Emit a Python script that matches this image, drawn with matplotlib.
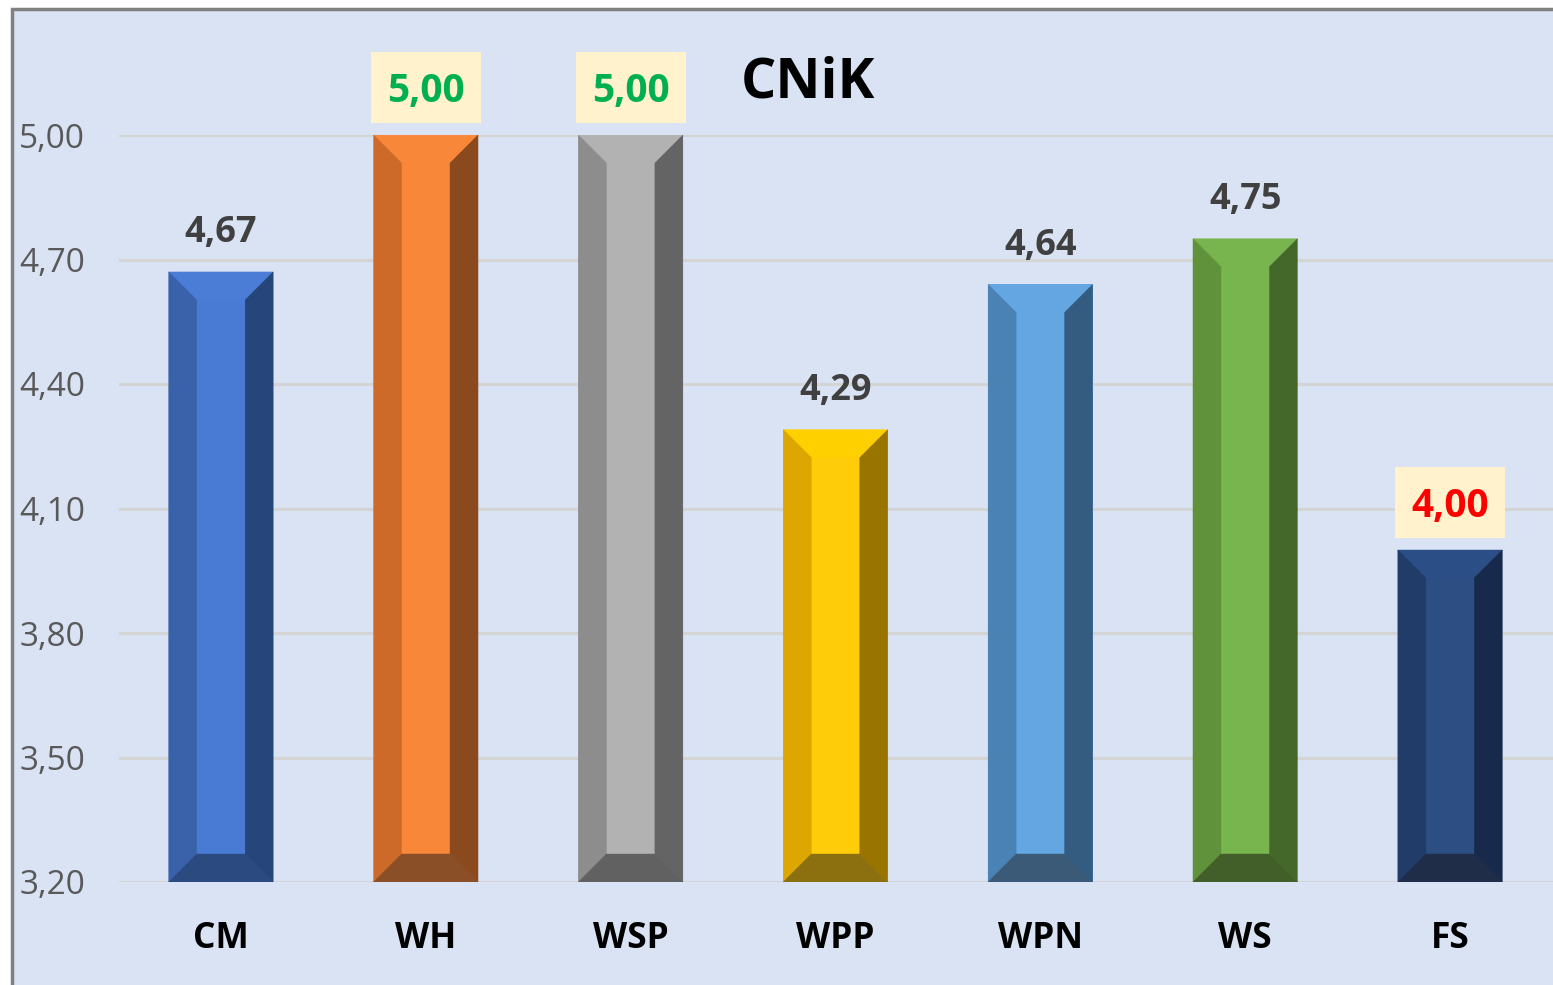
import matplotlib
matplotlib.use("Agg")
import matplotlib.pyplot as plt
from matplotlib.patches import Rectangle, Polygon
import numpy as np

# ------ DATA ------
categories = ["CM", "WH", "WSP", "WPP", "WPN", "WS", "FS"]
values = [4.67, 5.00, 5.00, 4.29, 4.64, 4.75, 4.00]
yticks = [3.20, 3.50, 3.80, 4.10, 4.40, 4.70, 5.00]
title = "CNiK"

# bevel colours per bar: centre, top, left, right, bottom
bar_colors = [
    ("#4A7BD4", "#4B7CD6", "#3A62AA", "#26457A", "#2B4A80"),
    ("#F9873A", "#F9873A", "#CD6A2A", "#8A4A1D", "#8A4F26"),
    ("#B2B2B2", "#B2B2B2", "#8D8D8D", "#646464", "#616161"),
    ("#FFCC09", "#FFD000", "#DDA600", "#997500", "#8C7010"),
    ("#64A6E1", "#64A6E1", "#4B82B4", "#335C80", "#3A5A78"),
    ("#79B54E", "#79B54E", "#5F923B", "#44682A", "#425F2A"),
    ("#2C4E82", "#2A4E85", "#213C69", "#182A4C", "#1F2D48"),
]
# highlighted labels: text colour or None
highlight = [None, "#00B050", "#00B050", None, None, None, "#FF0000"]

FONT = "Open Sans"
BG = "#DAE3F3"

fig = plt.figure(figsize=(15.53, 9.85), dpi=100)
W, H = 1553, 985

# chart area background with grey frame on top/left
fig.patches.append(Rectangle((11.5 / W, -0.1), 1.2, (985 - 8.5) / H + 0.1,
                             transform=fig.transFigure, facecolor=BG,
                             edgecolor="#808080", linewidth=2.5, zorder=-5))

ax_left, ax_right = 118.5 / W, 1552.5 / W
ax_bot, ax_top = (H - 882) / H, (H - 135) / H
ax = fig.add_axes([ax_left, ax_bot, ax_right - ax_left, ax_top - ax_bot])
ax.set_facecolor("none")

x = np.arange(len(categories))
ymin, ymax = 3.2, 5.0
ax.set_xlim(-0.5, len(categories) - 0.5)
ax.set_ylim(ymin, ymax)

# gridlines
ax.set_yticks(yticks)
ax.set_yticklabels([f"{v:.2f}".replace(".", ",") for v in yticks],
                   fontsize=24, color="#595959", family=FONT)
ax.yaxis.grid(True, color="#D4D4D4", linewidth=2.2, zorder=0)
ax.set_axisbelow(True)
ax.tick_params(axis="y", length=0, pad=24)
ax.set_xticks(x)
ax.set_xticklabels(categories, fontsize=25.5, fontweight="bold", color="black", family=FONT)
ax.tick_params(axis="x", length=0, pad=28)
for s in ax.spines.values():
    s.set_visible(False)

# bars with bevel
bw = 0.51
bars = ax.bar(x, [v - ymin for v in values], width=bw, bottom=ymin,
              color=[c[0] for c in bar_colors], zorder=2, linewidth=0)

ax_w_px = (ax_right - ax_left) * W
ax_h_px = (ax_top - ax_bot) * H
px_x = ax_w_px / len(categories)      # pixels per x unit
px_y = ax_h_px / (ymax - ymin)        # pixels per y unit
bev = 28
bx = bev / px_x
by = bev / px_y

for b, cols in zip(bars, bar_colors):
    x0, x1 = b.get_x(), b.get_x() + b.get_width()
    y0, y1 = b.get_y(), b.get_y() + b.get_height()
    c_mid, c_top, c_left, c_right, c_bot = cols
    ix0, ix1, iy0, iy1 = x0 + bx, x1 - bx, y0 + by, y1 - by
    polys = [
        ([(x0, y1), (x1, y1), (ix1, iy1), (ix0, iy1)], c_top),
        ([(x0, y0), (ix0, iy0), (ix0, iy1), (x0, y1)], c_left),
        ([(x1, y0), (x1, y1), (ix1, iy1), (ix1, iy0)], c_right),
        ([(x0, y0), (x1, y0), (ix1, iy0), (ix0, iy0)], c_bot),
    ]
    for pts, col in polys:
        ax.add_patch(Polygon(pts, closed=True, facecolor=col, edgecolor=col,
                             linewidth=0.3, zorder=3))

# value labels
for xi, v, hl in zip(x, values, highlight):
    lab = f"{v:.2f}".replace(".", ",")
    if hl is None:
        ax.annotate(lab, (xi, v), xytext=(0, 21.5), textcoords="offset points",
                    ha="center", va="baseline", fontsize=26, fontweight="bold",
                    color="#404040", family=FONT, annotation_clip=False)
    else:
        box_w = 110 / px_x
        ax.add_patch(Rectangle((xi - box_w / 2, v + 12 / px_y), box_w, 71 / px_y,
                               facecolor="#FFF2CC", edgecolor="none",
                               zorder=4, clip_on=False))
        ax.annotate(lab, (xi, v), xytext=(0, 23.5), textcoords="offset points",
                    ha="center", va="baseline", fontsize=28, fontweight="bold",
                    color=hl, family=FONT, annotation_clip=False, zorder=5)

fig.text(808 / W, (H - 97) / H, title, ha="center", va="baseline",
         fontsize=40, fontweight="bold", color="black", family=FONT)

fig.savefig("out.png", dpi=100, facecolor="white")
